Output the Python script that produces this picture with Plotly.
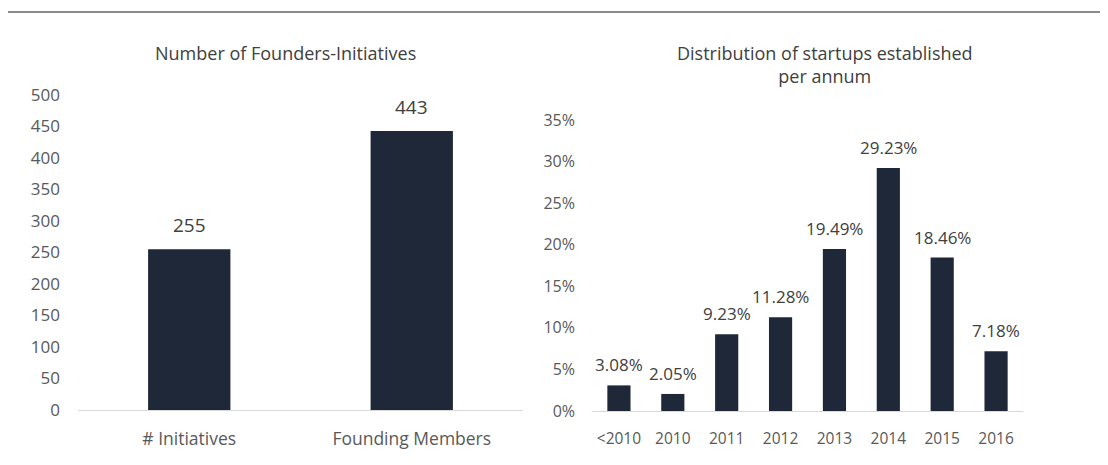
import plotly.graph_objects as go

# ---- data ----
left_categories = ["# Initiatives", "Founding Members"]
left_values = [255, 443]
left_labels = ["255", "443"]

right_categories = ["<2010", "2010", "2011", "2012", "2013", "2014", "2015", "2016"]
right_values = [3.08, 2.05, 9.23, 11.28, 19.49, 29.23, 18.46, 7.18]  # percent
right_labels = ["3.08%", "2.05%", "9.23%", "11.28%", "19.49%", "29.23%", "18.46%", "7.18%"]

left_title = "Number of Founders-Initiatives"
right_title = "Distribution of startups established<br>per annum"

left_yticks = list(range(0, 501, 50))
right_yticks = [0, 0.05, 0.10, 0.15, 0.20, 0.25, 0.30, 0.35]

BAR = "#1e2839"
TICK = "#595959"
LABEL = "#404040"
FONT = "Open Sans"

# page has an 8px body margin; figure sized so it fits the 1108x465 window
OFF = 8
W, H = 1108 - OFF, 465 - OFF


def fx(px):
    return (px - OFF) / W


def fy(py):
    return 1 - (py - OFF) / H


lx = list(range(len(left_categories)))
rx = list(range(len(right_categories)))

fig = go.Figure()
fig.add_trace(go.Bar(x=lx, y=left_values, marker_color=BAR, width=0.37,
                     marker_line_width=0, xaxis="x", yaxis="y", hoverinfo="skip"))
fig.add_trace(go.Bar(x=rx, y=[v / 100 for v in right_values], marker_color=BAR, width=0.43,
                     marker_line_width=0, xaxis="x2", yaxis="y2", hoverinfo="skip"))

annotations = []
for i, v, t in zip(lx, left_values, left_labels):
    annotations.append(dict(x=i, y=v, xref="x", yref="y", text=t, showarrow=False,
                            yanchor="bottom", yshift=9,
                            font=dict(family=FONT, size=19, color=LABEL)))
for i, v, t in zip(rx, right_values, right_labels):
    annotations.append(dict(x=i, y=v / 100, xref="x2", yref="y2", text=t, showarrow=False,
                            yanchor="bottom", yshift=7,
                            font=dict(family=FONT, size=17, color=LABEL)))

annotations.append(dict(x=fx(285), y=fy(53), xref="paper", yref="paper", text=left_title,
                        showarrow=False, xanchor="center", yanchor="middle",
                        font=dict(family=FONT, size=18, color=LABEL)))
annotations.append(dict(x=fx(825), y=fy(64), xref="paper", yref="paper", text=right_title,
                        showarrow=False, xanchor="center", yanchor="middle",
                        font=dict(family=FONT, size=18, color=LABEL)))

fig.update_layout(
    width=W, height=H,
    margin=dict(l=0, r=0, t=0, b=0, pad=0, autoexpand=False),
    paper_bgcolor="white", plot_bgcolor="white",
    showlegend=False,
    annotations=annotations,
    shapes=[dict(type="line", xref="paper", yref="paper", x0=0, x1=1, y0=fy(12), y1=fy(12),
                 line=dict(color="#8a8a8a", width=2))],
    xaxis=dict(domain=[fx(78), fx(523)], anchor="y", range=[-0.5, len(lx) - 0.5],
               tickvals=lx, ticktext=left_categories, showgrid=False, showline=True,
               linecolor="#d9d9d9", linewidth=1, ticks="", zeroline=False,
               tickfont=dict(family=FONT, size=17.5, color=TICK), ticklabelstandoff=13),
    yaxis=dict(domain=[fy(410), fy(95)], anchor="x", range=[0, 500],
               tickvals=left_yticks, showgrid=False, showline=False, zeroline=False,
               tickfont=dict(family=FONT, size=17, color=TICK), ticklabelstandoff=17),
    xaxis2=dict(domain=[fx(592), fx(1023)], anchor="y2", range=[-0.5, len(rx) - 0.5],
                tickvals=rx, ticktext=right_categories, showgrid=False, showline=True,
                linecolor="#d9d9d9", linewidth=1, ticks="", zeroline=False,
                tickfont=dict(family=FONT, size=15.5, color=TICK), ticklabelstandoff=13),
    yaxis2=dict(domain=[fy(411), fy(120)], anchor="x2", range=[0, 0.35],
                tickvals=right_yticks, tickformat=".0%", showgrid=False, showline=False,
                zeroline=False, tickfont=dict(family=FONT, size=16, color=TICK),
                ticklabelstandoff=16),
)

fig.write_html("out.html")
